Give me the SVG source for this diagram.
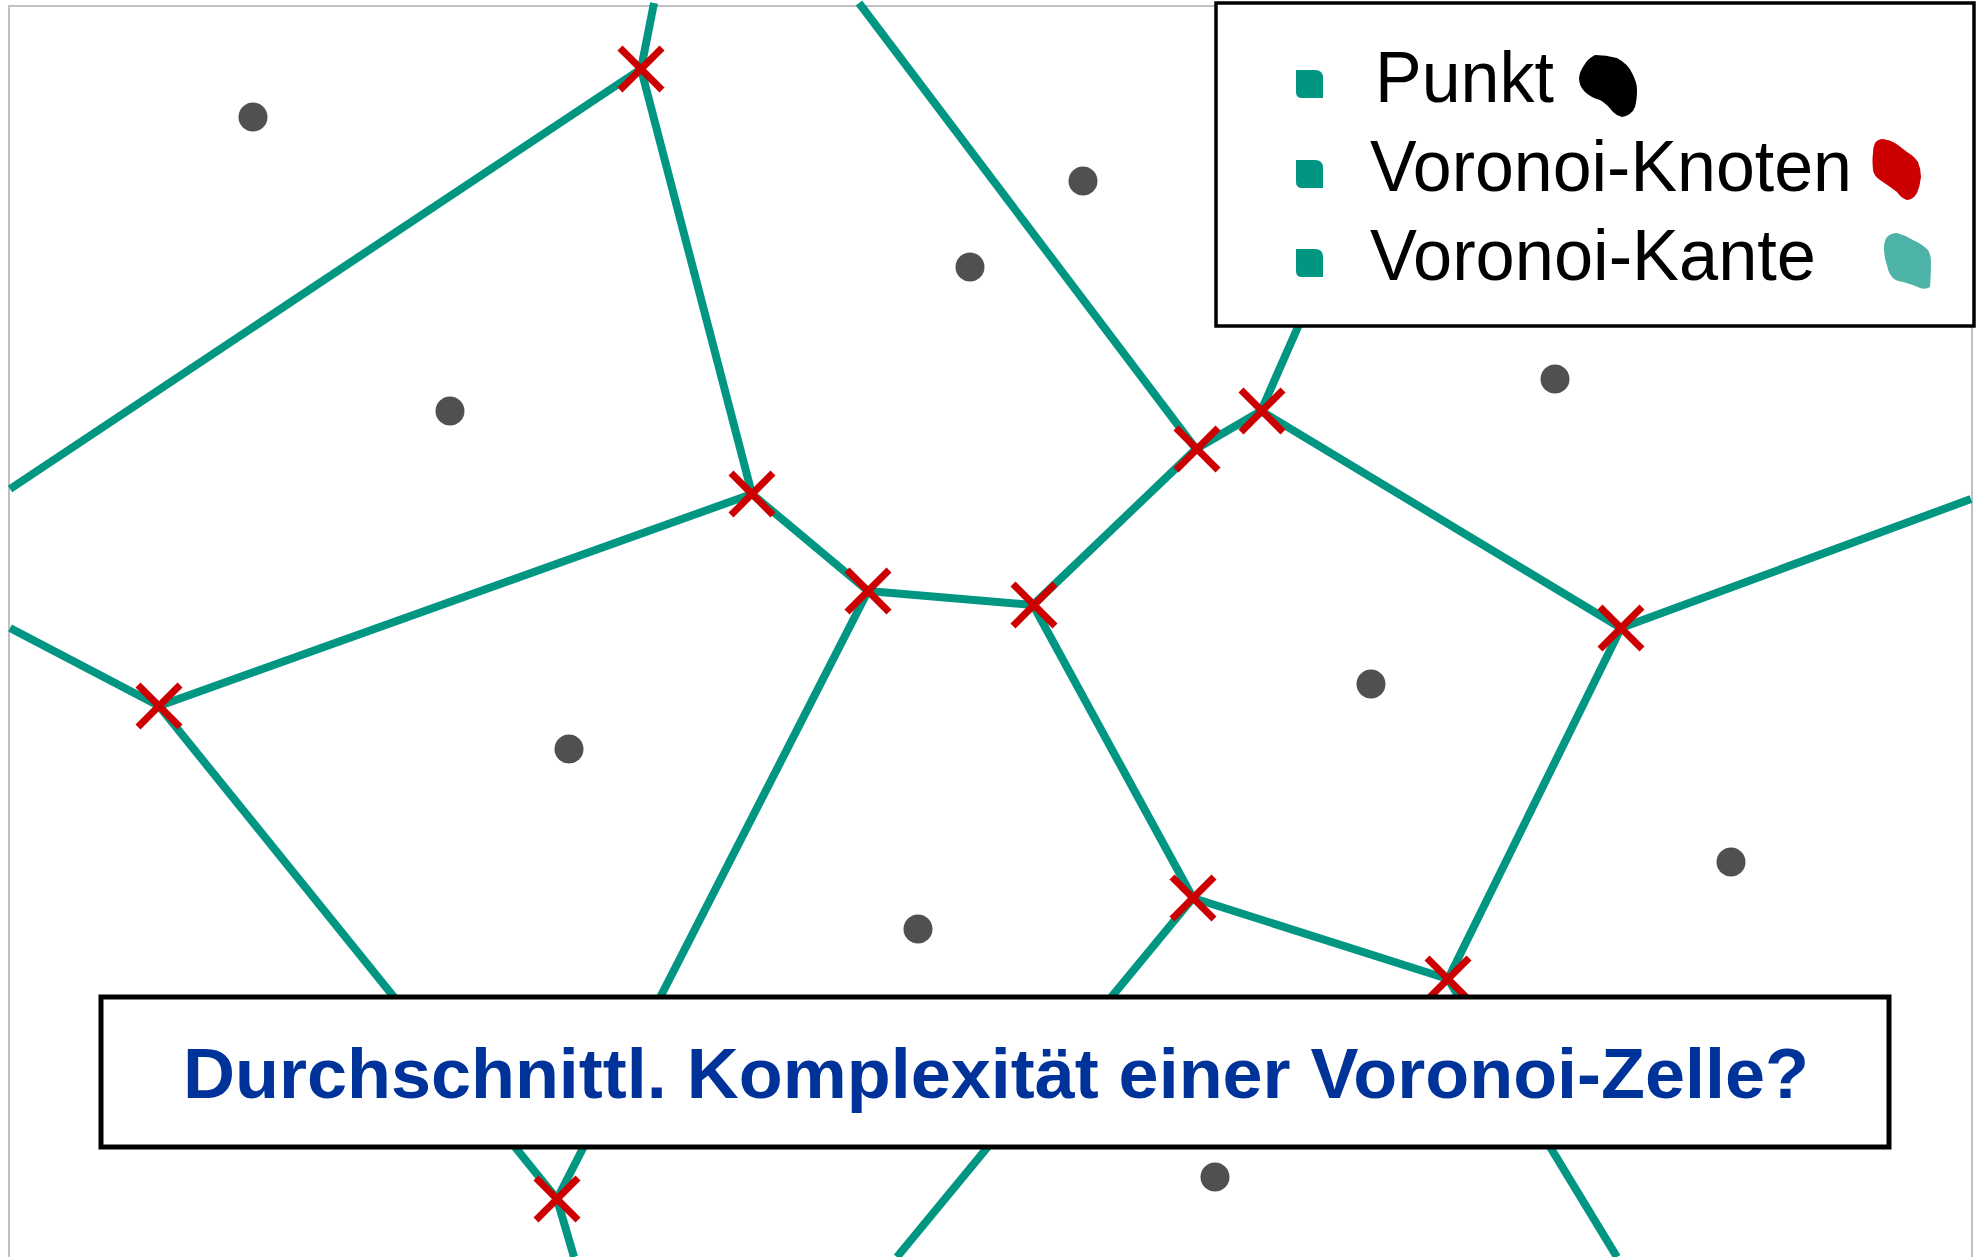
<svg xmlns="http://www.w3.org/2000/svg" width="1981" height="1257" viewBox="0 0 1981 1257">
  <defs>
    <style>
      .edge { stroke: #009682; stroke-width: 8; fill: none; stroke-linecap: butt; }
      .pt { fill: #505050; }
      .vx { stroke: #cc0000; stroke-width: 7; fill: none; }
      .box { fill: #ffffff; stroke: #000000; }
      .lg { font-family: "Liberation Sans", "DejaVu Sans", sans-serif; font-size: 72px; fill: #000000; }
      .q { font-family: "Liberation Sans", "DejaVu Sans", sans-serif; font-size: 71px; font-weight: bold; fill: #003399; }
      .sq { fill: #009682; }
    </style>
    <g id="xmark">
      <line class="vx" x1="-21" y1="-21" x2="21" y2="21"/>
      <line class="vx" x1="-21" y1="21" x2="21" y2="-21"/>
    </g>
  </defs>
  <rect width="1981" height="1257" fill="#ffffff"/>
  <rect id="frame" x="9" y="6" width="1963" height="1300" fill="none" stroke="#c0c0c0" stroke-width="2"/>

  <g id="connectors">
    <line class="edge" x1="641" y1="69" x2="654" y2="3"/>
    <line class="edge" x1="641" y1="69" x2="10" y2="489"/>
    <line class="edge" x1="641" y1="69" x2="752" y2="494"/>
    <line class="edge" x1="752" y1="494" x2="159" y2="706"/>
    <line class="edge" x1="752" y1="494" x2="868" y2="591"/>
    <line class="edge" x1="868" y1="591" x2="1033" y2="605"/>
    <line class="edge" x1="868" y1="591" x2="557" y2="1199"/>
    <line class="edge" x1="159" y1="706" x2="10" y2="628"/>
    <line class="edge" x1="159" y1="706" x2="557" y2="1199"/>
    <line class="edge" x1="557" y1="1199" x2="574" y2="1257"/>
    <line class="edge" x1="1033" y1="605" x2="1196" y2="449"/>
    <line class="edge" x1="1033" y1="605" x2="1193" y2="898"/>
    <line class="edge" x1="1196" y1="449" x2="859" y2="3"/>
    <line class="edge" x1="1196" y1="449" x2="1261" y2="411"/>
    <line class="edge" x1="1261" y1="411" x2="1301" y2="320"/>
    <line class="edge" x1="1261" y1="411" x2="1621" y2="628"/>
    <line class="edge" x1="1621" y1="628" x2="1971" y2="499"/>
    <line class="edge" x1="1621" y1="628" x2="1448" y2="979"/>
    <line class="edge" x1="1193" y1="898" x2="1448" y2="979"/>
    <line class="edge" x1="1193" y1="898" x2="897" y2="1257"/>
    <line class="edge" x1="1448" y1="979" x2="1617" y2="1257"/>
  </g>

  <g id="points">
    <circle class="pt" cx="253" cy="117" r="14.5"/>
    <circle class="pt" cx="450" cy="411" r="14.5"/>
    <circle class="pt" cx="1083" cy="181" r="14.5"/>
    <circle class="pt" cx="970" cy="267" r="14.5"/>
    <circle class="pt" cx="1555" cy="379" r="14.5"/>
    <circle class="pt" cx="569" cy="749" r="14.5"/>
    <circle class="pt" cx="1371" cy="684" r="14.5"/>
    <circle class="pt" cx="918" cy="929" r="14.5"/>
    <circle class="pt" cx="1731" cy="862" r="14.5"/>
    <circle class="pt" cx="1215" cy="1177" r="14.5"/>
  </g>

  <g id="vertices">
    <use href="#xmark" x="641" y="69"/>
    <use href="#xmark" x="752" y="494"/>
    <use href="#xmark" x="868" y="591"/>
    <use href="#xmark" x="1034" y="605"/>
    <use href="#xmark" x="1197" y="449"/>
    <use href="#xmark" x="1262" y="411"/>
    <use href="#xmark" x="1621" y="628"/>
    <use href="#xmark" x="1193" y="898"/>
    <use href="#xmark" x="1448" y="979"/>
    <use href="#xmark" x="159" y="706"/>
    <use href="#xmark" x="557" y="1199"/>
  </g>

  <g id="legend">
    <rect class="box" x="1216" y="3" width="758" height="323" stroke-width="3.5"/>
    <path class="sq" d="M1296,70 H1315 Q1323,70 1323,78 V98 H1302 Q1296,98 1296,92 Z"/>
    <path class="sq" d="M1296,160 H1315 Q1323,160 1323,168 V188 H1302 Q1296,188 1296,182 Z"/>
    <path class="sq" d="M1296,249 H1315 Q1323,249 1323,257 V277 H1302 Q1296,277 1296,271 Z"/>
    <text class="lg" x="1375" y="102" textLength="179" lengthAdjust="spacingAndGlyphs">Punkt</text>
    <text class="lg" x="1370" y="191" textLength="482" lengthAdjust="spacingAndGlyphs">Voronoi-Knoten</text>
    <text class="lg" x="1370" y="280" textLength="446" lengthAdjust="spacingAndGlyphs">Voronoi-Kante</text>
    <path fill="#000000" d="M1595,55 Q1606,55 1617,58 Q1628,64 1632,73 Q1637,82 1637,90 Q1637,100 1635,107 Q1632,115 1622,117 Q1617,116 1613,112 Q1607,104 1600,100 Q1590,97 1585,92 Q1579,86 1579,78 Q1580,71 1583,67 Q1588,58 1595,55 Z"/>
    <path fill="#cc0000" d="M1875,143 Q1878,139 1883,139 Q1890,140 1895,143 Q1901,147 1907,152 Q1914,156 1918,162 Q1921,169 1921,177 Q1920,186 1917,193 Q1913,200 1907,200 Q1901,198 1897,192 Q1889,186 1880,180 Q1874,176 1873,170 Q1872,160 1873,153 Q1873,147 1875,143 Z"/>
    <path fill="#4db3a6" d="M1887,237 Q1891,233 1897,233 Q1905,235 1913,240 Q1922,244 1928,250 Q1931,255 1931,262 Q1931,275 1930,287 Q1926,290 1920,288 Q1911,284 1903,282 Q1895,281 1892,277 Q1888,272 1887,265 Q1884,257 1884,248 Q1884,241 1887,237 Z"/>
  </g>

  <g id="question">
    <rect class="box" x="101" y="997" width="1788" height="150" stroke-width="5"/>
    <text class="q" x="183" y="1098" textLength="1626" lengthAdjust="spacingAndGlyphs">Durchschnittl. Komplexität einer Voronoi-Zelle?</text>
  </g>
</svg>
